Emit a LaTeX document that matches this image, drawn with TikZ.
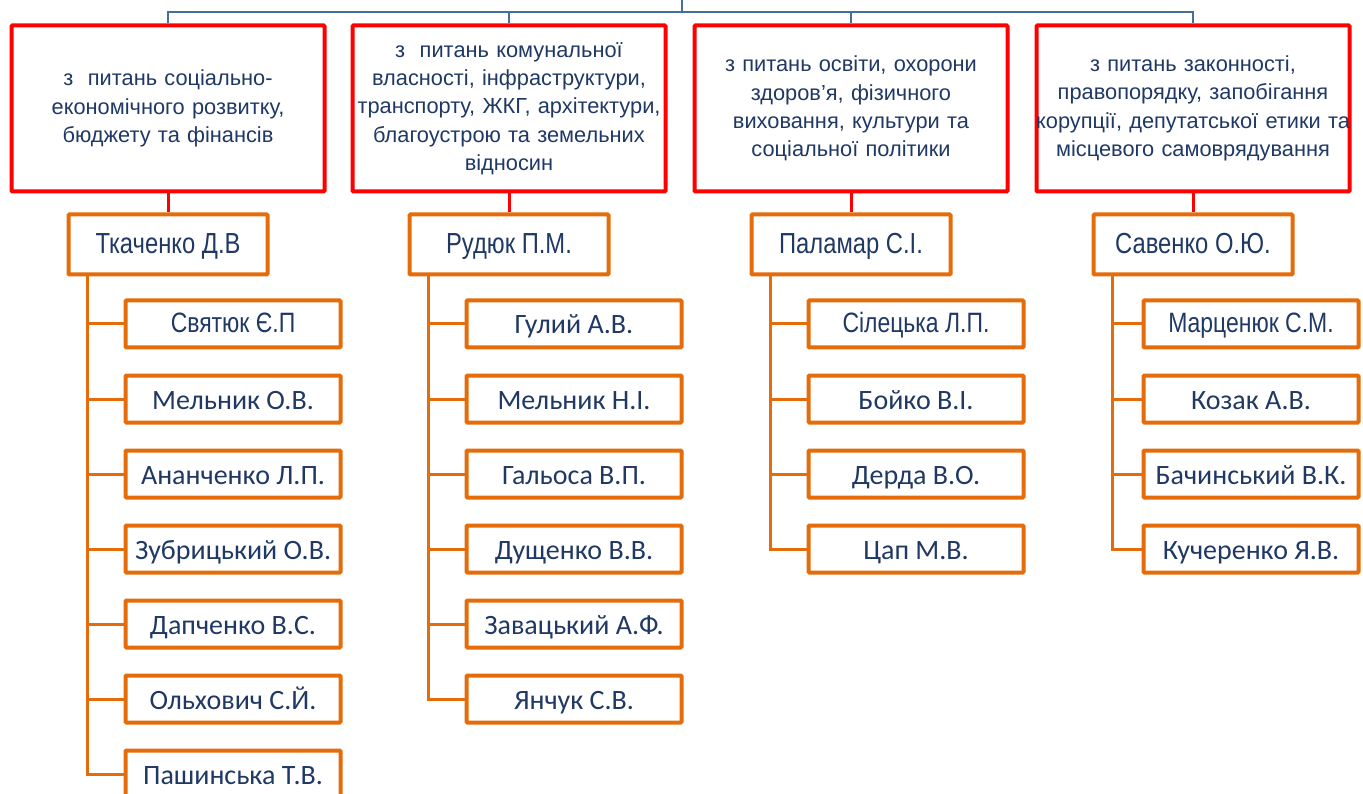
\documentclass[tikz,border=0pt]{standalone}
\usepackage{fontspec}
\setmainfont{Liberation Sans}
\newfontfamily\narrowfont[FakeStretch=0.82]{Liberation Sans}
\newfontfamily\namefont{Carlito}
\usetikzlibrary{positioning}
\definecolor{boxred}{HTML}{FF0000}
\definecolor{boxorange}{HTML}{E46C0A}
\definecolor{textnavy}{HTML}{1F3864}
\definecolor{linkblue}{HTML}{41709C}

\begin{document}
\begin{tikzpicture}[x=1pt, y=-1pt,
    areabox/.style={draw=boxred, line width=4pt, rounded corners=1pt, minimum width=313pt, minimum height=166pt,
        text width=313pt, align=center, inner sep=0pt, text=textnavy, font=\fontsize{21.8}{28.3}\selectfont},
    headbox/.style={draw=boxorange, line width=4pt, rounded corners=1pt, minimum width=199pt, minimum height=60pt,
        inner ysep=0pt, text height=24pt, text depth=6pt,
        text=textnavy, font=\narrowfont\fontsize{29}{34}\selectfont},
    memberbox/.style={draw=boxorange, line width=4pt, rounded corners=1pt, minimum width=215pt, minimum height=47pt,
        inner ysep=0pt, text height=26pt, text depth=6pt,
        text=textnavy, font=\namefont\fontsize{28}{33}\selectfont},
    narrowname/.style={text height=24pt, font=\narrowfont\fontsize{28}{33}\selectfont},
    busline/.style={draw=linkblue, line width=2.5pt},
    redlink/.style={draw=boxred, line width=3pt},
    trunk/.style={draw=boxorange, line width=3pt}]
    \useasboundingbox (0,0) rectangle (1363,794);

    % committees
    \node[areabox] (a1) at (168,108.5) {з\ \ питань соціально-\\економічного розвитку,\\бюджету та фінансів};
    \node[areabox] (a2) at (509,108.5) {з\ \ питань комунальної\\власності, інфраструктури,\\транспорту, ЖКГ, архітектури,\\благоустрою та земельних\\відносин};
    \node[areabox] (a3) at (851,108.5) {з питань освіти, охорони\\здоров’я, фізичного\\виховання, культури та\\соціальної політики};
    \node[areabox] (a4) at (1193,108.5) {з питань законності,\\правопорядку, запобігання\\\makebox[313pt]{корупції, депутатської етики та}\\місцевого самоврядування};

    \coordinate (root) at (682,0);
    \coordinate (bus) at (682,12);
    \draw[busline] (root) -- (bus);
    \foreach \a in {a1,a2,a3,a4}
        \draw[busline] (\a.north) |- (bus);

    % heads
    \node[headbox, below=19pt of a1] (h1) {Ткаченко Д.В};
    \node[headbox, below=19pt of a2] (h2) {Рудюк П.М.};
    \node[headbox, below=19pt of a3] (h3) {Паламар С.І.};
    \node[headbox, below=19pt of a4] (h4) {Савенко О.Ю.};
    \foreach \i in {1,...,4}
        \draw[redlink] (a\i) -- (h\i);

    % members
    \node[memberbox, narrowname, anchor=north west] (m11) at ([xshift=57pt, yshift=-22pt]h1.south west) {Святюк Є.П};
    \node[memberbox, below=24pt of m11] (m12) {Мельник О.В.};
    \node[memberbox, below=24pt of m12] (m13) {Ананченко Л.П.};
    \node[memberbox, below=24pt of m13] (m14) {Зубрицький О.В.};
    \node[memberbox, below=24pt of m14] (m15) {Дапченко В.С.};
    \node[memberbox, below=24pt of m15] (m16) {Ольхович С.Й.};
    \node[memberbox, below=24pt of m16] (m17) {Пашинська Т.В.};

    \node[memberbox, anchor=north west] (m21) at ([xshift=57pt, yshift=-22pt]h2.south west) {Гулий А.В.};
    \node[memberbox, below=24pt of m21] (m22) {Мельник Н.І.};
    \node[memberbox, below=24pt of m22] (m23) {Гальоса В.П.};
    \node[memberbox, below=24pt of m23] (m24) {Дущенко В.В.};
    \node[memberbox, below=24pt of m24] (m25) {Завацький А.Ф.};
    \node[memberbox, below=24pt of m25] (m26) {Янчук С.В.};

    \node[memberbox, narrowname, anchor=north west] (m31) at ([xshift=57pt, yshift=-22pt]h3.south west) {Сілецька Л.П.};
    \node[memberbox, below=24pt of m31] (m32) {Бойко В.І.};
    \node[memberbox, below=24pt of m32] (m33) {Дерда В.О.};
    \node[memberbox, below=24pt of m33] (m34) {Цап М.В.};

    \node[memberbox, narrowname, anchor=north west] (m41) at ([xshift=50pt, yshift=-22pt]h4.south west) {Марценюк С.М.};
    \node[memberbox, below=24pt of m41] (m42) {Козак А.В.};
    \node[memberbox, below=24pt of m42] (m43) {Бачинський В.К.};
    \node[memberbox, below=24pt of m43] (m44) {Кучеренко Я.В.};

    \foreach \m in {m11,m12,m13,m14,m15,m16,m17}
        \draw[trunk] ([xshift=21pt]h1.south west) |- (\m.west);
    \foreach \m in {m21,m22,m23,m24,m25,m26}
        \draw[trunk] ([xshift=21pt]h2.south west) |- (\m.west);
    \foreach \m in {m31,m32,m33,m34}
        \draw[trunk] ([xshift=21pt]h3.south west) |- (\m.west);
    \foreach \m in {m41,m42,m43,m44}
        \draw[trunk] ([xshift=21pt]h4.south west) |- (\m.west);
\end{tikzpicture}
\end{document}
